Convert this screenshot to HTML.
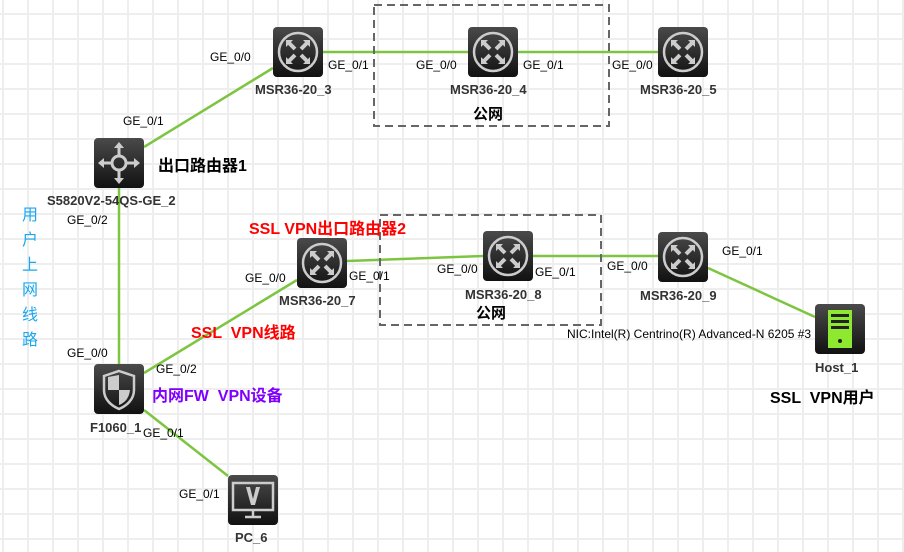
<!DOCTYPE html>
<html><head><meta charset="utf-8"><style>
body{margin:0;background:#fff}
svg{display:block}
text{font-family:"Liberation Sans","Noto Sans CJK SC",sans-serif;white-space:pre}
.p{font-size:12px;fill:#000}
.n{font-size:13px;font-weight:bold;fill:#333}
</style></head><body>
<svg width="904" height="552" viewBox="0 0 904 552" xmlns="http://www.w3.org/2000/svg">
<defs>
<pattern id="g" x="2" y="13" width="25" height="25" patternUnits="userSpaceOnUse">
<rect width="25" height="25" fill="#fff"/>
<rect x="0" y="0" width="2" height="25" fill="#eee"/>
<rect x="0" y="0" width="25" height="2" fill="#eee"/>
</pattern>
<linearGradient id="bg" x1="0" y1="0" x2="0" y2="1"><stop offset="0" stop-color="#4a4a4a"/><stop offset="1" stop-color="#111"/></linearGradient>
<g id="router"><rect width="50" height="50" rx="4" fill="url(#bg)"/><circle cx="25" cy="25" r="19" fill="none" stroke="#ccc" stroke-width="2.5"/><path d="M15 15 L22 22 M35 15 L28 22 M15 35 L22 28 M35 35 L28 28" stroke="#ccc" stroke-width="4"/><path d="M13 13h7l-7 7z M37 13h-7l7 7z M13 37h7l-7-7z M37 37h-7l7-7z" fill="#ccc"/></g>
</defs>
<rect width="904" height="552" fill="url(#g)"/>
<g stroke="#7dc540" stroke-width="2.5" fill="none">
<line x1="144" y1="147" x2="273" y2="68"/>
<line x1="323" y1="52" x2="468" y2="52"/>
<line x1="518" y1="52" x2="658" y2="52"/>
<line x1="119" y1="188" x2="119" y2="364"/>
<line x1="144" y1="373" x2="297" y2="280"/>
<line x1="347" y1="261" x2="483" y2="256"/>
<line x1="533" y1="256" x2="658" y2="256"/>
<line x1="708" y1="268" x2="815" y2="317"/>
<line x1="144" y1="410" x2="228" y2="476"/>
</g>
<g fill="none" stroke="#666" stroke-width="2" stroke-dasharray="8,5">
<rect x="374" y="5" width="235" height="121"/>
<rect x="380" y="215" width="221" height="110"/>
</g>
<use href="#router" x="273" y="27"/>
<use href="#router" x="468" y="27"/>
<use href="#router" x="658" y="27"/>
<use href="#router" x="297" y="238"/>
<use href="#router" x="483" y="231"/>
<use href="#router" x="658" y="232"/>
<g transform="translate(94,138)"><rect width="50" height="50" rx="4" fill="url(#bg)"/><circle cx="25" cy="25" r="7" fill="none" stroke="#ccc" stroke-width="3"/><path d="M25 6v12M25 32v12M6 25h12M32 25h12" stroke="#ccc" stroke-width="3"/><path d="M25 4l-5 6h10zM25 46l-5-6h10zM4 25l6-5v10zM46 25l-6-5v10z" fill="#ccc"/></g>
<g transform="translate(94,364)"><rect width="50" height="50" rx="4" fill="url(#bg)"/><path d="M25 7 L40 12 V26 C40 36 32 42 25 45 C18 42 10 36 10 26 V12Z" fill="none" stroke="#ccc" stroke-width="2.5"/><path d="M25 11 V26 H14 V13Z M25 26 H36 C35 35 30 39 25 41Z" fill="#ccc"/></g>
<g transform="translate(228,475)"><rect width="50" height="50" rx="4" fill="url(#bg)"/><rect x="5" y="8" width="40" height="27" fill="none" stroke="#ccc" stroke-width="2.5"/><path d="M18 12h4l3 12 3-12h4l-5 18h-4z" fill="#ccc"/><path d="M25 35v6M17 42h16" stroke="#ccc" stroke-width="2.5"/></g>
<g transform="translate(815,304)"><rect width="50" height="50" rx="4" fill="url(#bg)"/><rect x="13" y="6" width="24" height="38" fill="#8ee830"/><rect x="16" y="10" width="18" height="3" fill="#222"/><rect x="16" y="16" width="18" height="3" fill="#222"/><rect x="16" y="22" width="18" height="3" fill="#222"/><circle cx="25" cy="37" r="2" fill="#222"/></g>
<g class="p">
<text x="210" y="61">GE_0/0</text><text x="328" y="69">GE_0/1</text>
<text x="416" y="69">GE_0/0</text><text x="523" y="69">GE_0/1</text>
<text x="612" y="69">GE_0/0</text>
<text x="123" y="125">GE_0/1</text><text x="67" y="224">GE_0/2</text>
<text x="245" y="282">GE_0/0</text><text x="349" y="280">GE_0/1</text>
<text x="437" y="273">GE_0/0</text><text x="535" y="276">GE_0/1</text>
<text x="607" y="270">GE_0/0</text><text x="722" y="255">GE_0/1</text>
<text x="67" y="357">GE_0/0</text><text x="156" y="373">GE_0/2</text>
<text x="143" y="437">GE_0/1</text><text x="179" y="498">GE_0/1</text>
<text x="567" y="338">NIC:Intel(R) Centrino(R) Advanced-N 6205 #3</text>
</g>
<g class="n">
<text x="255" y="94">MSR36-20_3</text><text x="450" y="94">MSR36-20_4</text>
<text x="640" y="94">MSR36-20_5</text>
<text x="47" y="205">S5820V2-54QS-GE_2</text>
<text x="279" y="305">MSR36-20_7</text><text x="465" y="299">MSR36-20_8</text>
<text x="640" y="300">MSR36-20_9</text>
<text x="815" y="372">Host_1</text>
<text x="90" y="432">F1060_1</text>
<text x="235" y="542">PC_6</text>
</g>
<text x="473" y="119" style="font-size:15px;font-weight:bold">公网</text>
<text x="476" y="318" style="font-size:15px;font-weight:bold">公网</text>
<text x="158" y="171" style="font-size:16px;font-weight:bold">出口路由器1</text>
<text x="249" y="234" style="font-size:16px;font-weight:bold;fill:#f00">SSL VPN出口路由器2</text>
<text x="191" y="338" style="font-size:16px;font-weight:bold;fill:#f00">SSL  VPN线路</text>
<text x="152" y="401" style="font-size:16px;font-weight:bold;fill:#7f00ff">内网FW  VPN设备</text>
<text x="770" y="403" style="font-size:16px;font-weight:bold;fill:#000">SSL  VPN用户</text>
<g style="font-size:16px;fill:#1aa7ee">
<text x="22" y="220">用</text><text x="22" y="245">户</text><text x="22" y="270">上</text><text x="22" y="295">网</text><text x="22" y="320">线</text><text x="22" y="345">路</text>
</g>
</svg>
</body></html>
